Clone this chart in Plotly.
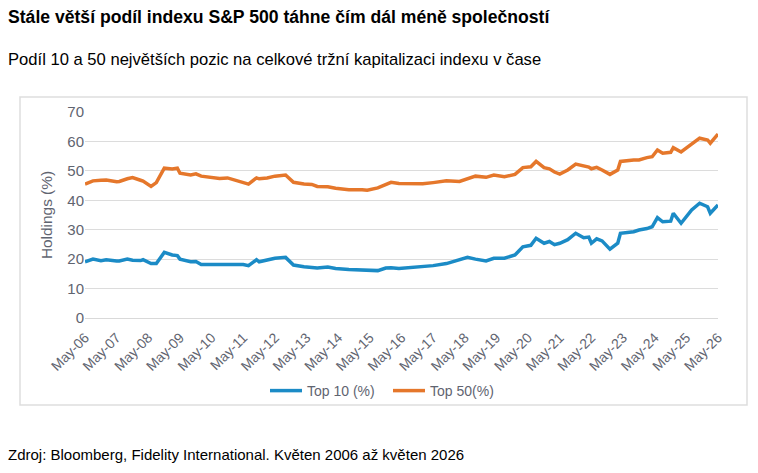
import plotly.graph_objects as go

dates = ["2006-05-01","2006-08-01","2006-11-01","2007-01-01","2007-05-01","2007-06-01","2007-09-01","2007-11-01",
         "2008-02-01","2008-03-01","2008-06-01","2008-08-01","2008-11-01","2009-02-01","2009-04-01","2009-05-01",
         "2009-09-01","2009-11-01","2010-01-01","2010-05-01","2010-08-01","2010-11-01","2011-01-01","2011-05-01",
         "2011-07-01","2011-10-01","2011-11-01","2012-02-01","2012-05-01","2012-09-01","2012-12-01","2013-04-01",
         "2013-07-01","2013-09-01","2014-01-01","2014-04-01","2014-09-01","2015-02-01","2015-04-01","2015-08-01",
         "2015-11-01","2016-01-01","2016-04-01","2016-09-01","2017-01-01","2017-05-01","2017-10-01","2018-03-01",
         "2018-06-01","2018-09-01","2019-01-01","2019-04-01","2019-08-01","2019-12-01","2020-03-01","2020-06-01",
         "2020-08-01","2020-11-01","2021-01-01","2021-03-01","2021-05-01","2021-08-01","2021-11-01","2022-02-01",
         "2022-04-01","2022-05-01","2022-07-01","2022-09-01","2022-12-01","2023-03-01","2023-04-01","2023-09-01",
         "2023-11-01","2024-02-01","2024-04-01","2024-06-01","2024-08-01","2024-11-01","2024-12-01","2025-03-01",
         "2025-07-01","2025-10-01","2026-01-01","2026-02-01","2026-05-01"]

top10 = [19.1,20.0,19.5,19.8,19.4,19.4,20.0,19.6,19.5,19.8,18.5,18.5,22.3,21.4,21.2,20.0,
         19.1,19.2,18.2,18.2,18.2,18.1,18.0,18.2,17.8,19.8,19.1,19.8,20.3,20.6,18.0,17.4,
         17.2,17.0,17.3,16.8,16.5,16.3,16.5,16.1,17.0,17.1,16.8,17.1,17.3,17.8,18.5,19.7,
         20.6,20.0,19.4,20.3,20.3,21.4,24.2,24.7,27.1,25.4,26.0,24.9,25.4,26.6,28.8,27.3,
         27.5,25.4,26.9,26.2,23.4,25.4,28.8,29.3,29.9,30.4,31.0,34.1,32.7,32.9,35.6,32.2,
         36.7,39.0,37.8,35.6,38.4]

top50 = [45.5,46.6,46.8,46.9,46.3,46.4,47.3,47.7,46.8,46.5,44.7,46.0,50.9,50.6,50.9,49.2,
         48.6,49.0,48.2,47.6,47.4,47.6,47.0,46.1,45.5,47.6,47.3,47.6,48.2,48.6,46.1,45.5,
         45.4,44.7,44.6,44.1,43.6,43.6,43.4,44.2,45.3,46.1,45.7,45.6,45.6,46.0,46.6,46.4,
         47.4,48.2,47.8,48.6,48.0,48.8,51.1,51.4,53.2,51.1,50.7,49.6,48.9,50.3,52.3,51.8,
         51.3,50.7,51.2,50.3,48.8,50.3,53.2,53.7,53.7,54.5,54.8,57.1,56.0,56.3,57.9,56.4,
         58.9,61.1,60.5,59.4,62.5]

series_names = ["Top 10 (%)", "Top 50(%)"]
colors = ["#1b8bc6", "#e5772b"]

title = "Stále větší podíl indexu S&P 500 táhne čím dál méně společností"
subtitle = "Podíl 10 a 50 největších pozic na celkové tržní kapitalizaci indexu v čase"
source = "Zdroj: Bloomberg, Fidelity International. Květen 2006 až květen 2026"

FONT = "Liberation Sans, Arial, sans-serif"
GRAY = "#5f6470"

fig = go.Figure()
for name, vals, col in zip(series_names, [top10, top50], colors):
    fig.add_trace(go.Scatter(x=dates, y=vals, name=name, mode="lines",
                             line=dict(color=col, width=3.5)))

W, H = 758, 473
L, R, T, B = 85, 40, 112, 155
pw, ph = W - L - R, H - T - B

def px2paper_x(px):
    return (px - L) / pw

def py2paper_y(py):
    return (H - B - py) / ph

fig.update_layout(
    width=W, height=H,
    margin=dict(l=L, r=R, t=T, b=B, pad=0),
    paper_bgcolor="white", plot_bgcolor="white",
    font=dict(family=FONT, color=GRAY, size=13),
    showlegend=True,
    legend=dict(orientation="h", x=px2paper_x(265), xanchor="left",
                y=py2paper_y(391), yanchor="middle",
                font=dict(size=14, color=GRAY), itemwidth=32,
                entrywidth=76, entrywidthmode="pixels",
                bgcolor="rgba(0,0,0,0)"),
    xaxis=dict(type="date", range=["2006-05-01", "2026-05-01"],
               tick0="2006-05-01", dtick="M12", tickformat="%b-%y",
               tickangle=-45, showgrid=False, showline=True,
               linecolor="#d9d9d9", linewidth=1, ticks="",
               ticklabelstandoff=5,
               tickfont=dict(size=14, color=GRAY), zeroline=False),
    yaxis=dict(range=[0, 70], dtick=10, showgrid=True, gridcolor="#dcdcdc",
               gridwidth=1, zeroline=False, showline=False, ticks="",
               tickfont=dict(size=15, color=GRAY),
               title=dict(text="Holdings (%)", font=dict(size=15.4, color=GRAY), standoff=10)),
    shapes=[dict(type="rect", xref="paper", yref="paper",
                 x0=px2paper_x(20), x1=px2paper_x(747),
                 y0=py2paper_y(405), y1=py2paper_y(97),
                 line=dict(color="#dedede", width=1.5), layer="below")],
    annotations=[
        dict(text="<b>" + title + "</b>", xref="paper", yref="paper",
             x=px2paper_x(6), y=py2paper_y(17), xanchor="left", yanchor="middle",
             showarrow=False, font=dict(family=FONT, size=17.6, color="black")),
        dict(text=subtitle, xref="paper", yref="paper",
             x=px2paper_x(6), y=py2paper_y(60), xanchor="left", yanchor="middle",
             showarrow=False, font=dict(family=FONT, size=16.6, color="black")),
        dict(text=source, xref="paper", yref="paper",
             x=px2paper_x(6), y=py2paper_y(454), xanchor="left", yanchor="middle",
             showarrow=False, font=dict(family=FONT, size=15, color="black")),
    ],
)

fig.write_html("out.html")
